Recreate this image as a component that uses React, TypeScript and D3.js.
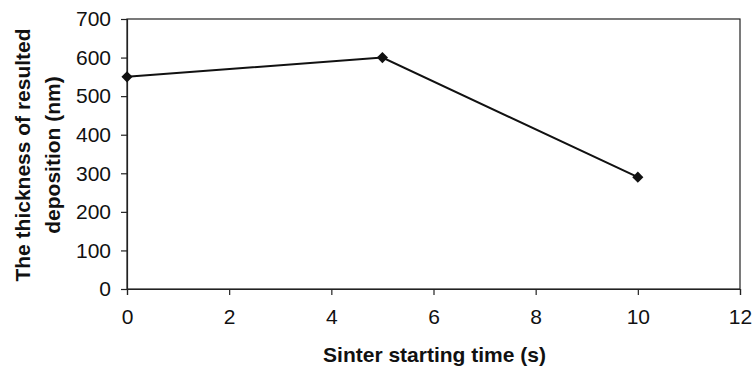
import React, { useEffect, useRef } from 'react';
import * as d3 from 'd3';

// values
const times = [0, 5, 10];
const thickness = [550, 600, 290];
const xTicks = [0, 2, 4, 6, 8, 10, 12];
const yTicks = [0, 100, 200, 300, 400, 500, 600, 700];
const xTitle = 'Sinter starting time (s)';
const yTitle = ['The thickness of resulted', 'deposition (nm)'];

const W = 753;
const H = 371;
const m = { top: 19, right: 13, bottom: 82, left: 127 };

export default function App() {
  const ref = useRef<SVGSVGElement>(null);

  useEffect(() => {
    const svg = d3.select(ref.current);
    svg.selectAll('*').remove();

    const iw = W - m.left - m.right;
    const ih = H - m.top - m.bottom;
    const x = d3.scaleLinear().domain([0, 12]).range([0, iw]);
    const y = d3.scaleLinear().domain([0, 700]).range([ih, 0]);

    const g = svg.append('g').attr('transform', `translate(${m.left},${m.top})`);
    const font = 'Arial, "Liberation Sans", sans-serif';

    // frame
    g.append('rect')
      .attr('width', iw)
      .attr('height', ih)
      .attr('fill', 'none')
      .attr('stroke', '#222')
      .attr('stroke-width', 1.2);

    const xa = g.append('g')
      .attr('transform', `translate(0,${ih})`)
      .call(d3.axisBottom(x).tickValues(xTicks).tickSize(6).tickPadding(14).tickFormat(d3.format('d')));
    const ya = g.append('g')
      .call(d3.axisLeft(y).tickValues(yTicks).tickSize(6).tickPadding(10).tickFormat(d3.format('d')));

    [xa, ya].forEach(a => {
      a.attr('font-size', null).attr('font-family', null);
      a.select('.domain').attr('stroke', '#222').attr('stroke-width', 1.2);
      a.selectAll('line').attr('stroke', '#222').attr('stroke-width', 1.2);
      a.selectAll('text')
        .attr('fill', '#111')
        .style('font-family', font)
        .style('font-size', '21px');
    });

    const pts = times.map((t, i) => [t, thickness[i]] as [number, number]);
    const line = d3.line<[number, number]>().x(d => x(d[0])).y(d => y(d[1]));
    g.append('path')
      .datum(pts)
      .attr('d', line)
      .attr('fill', 'none')
      .attr('stroke', '#111')
      .attr('stroke-width', 2);

    g.selectAll('.pt')
      .data(pts)
      .join('path')
      .attr('class', 'pt')
      .attr('transform', d => `translate(${x(d[0])},${y(d[1])}) rotate(45)`)
      .attr('d', d3.symbol(d3.symbolSquare, 62)())
      .attr('fill', '#111');

    svg.append('text')
      .attr('x', m.left + iw / 2 + 1)
      .attr('y', 362)
      .attr('text-anchor', 'middle')
      .attr('fill', '#111')
      .style('font-family', font)
      .style('font-size', '21px')
      .style('font-weight', 'bold')
      .text(xTitle);

    yTitle.forEach((t, i) => {
      svg.append('text')
        .attr('transform', `translate(${30 + i * 30},${m.top + ih / 2 + 1}) rotate(-90)`)
        .attr('text-anchor', 'middle')
        .attr('fill', '#111')
        .style('font-family', font)
        .style('font-size', '21px')
        .style('font-weight', 'bold')
        .text(t);
    });
  }, []);

  return <svg ref={ref} width={W} height={H} style={{ position: 'absolute', left: 0, top: 0, background: '#fff' }} />;
}
